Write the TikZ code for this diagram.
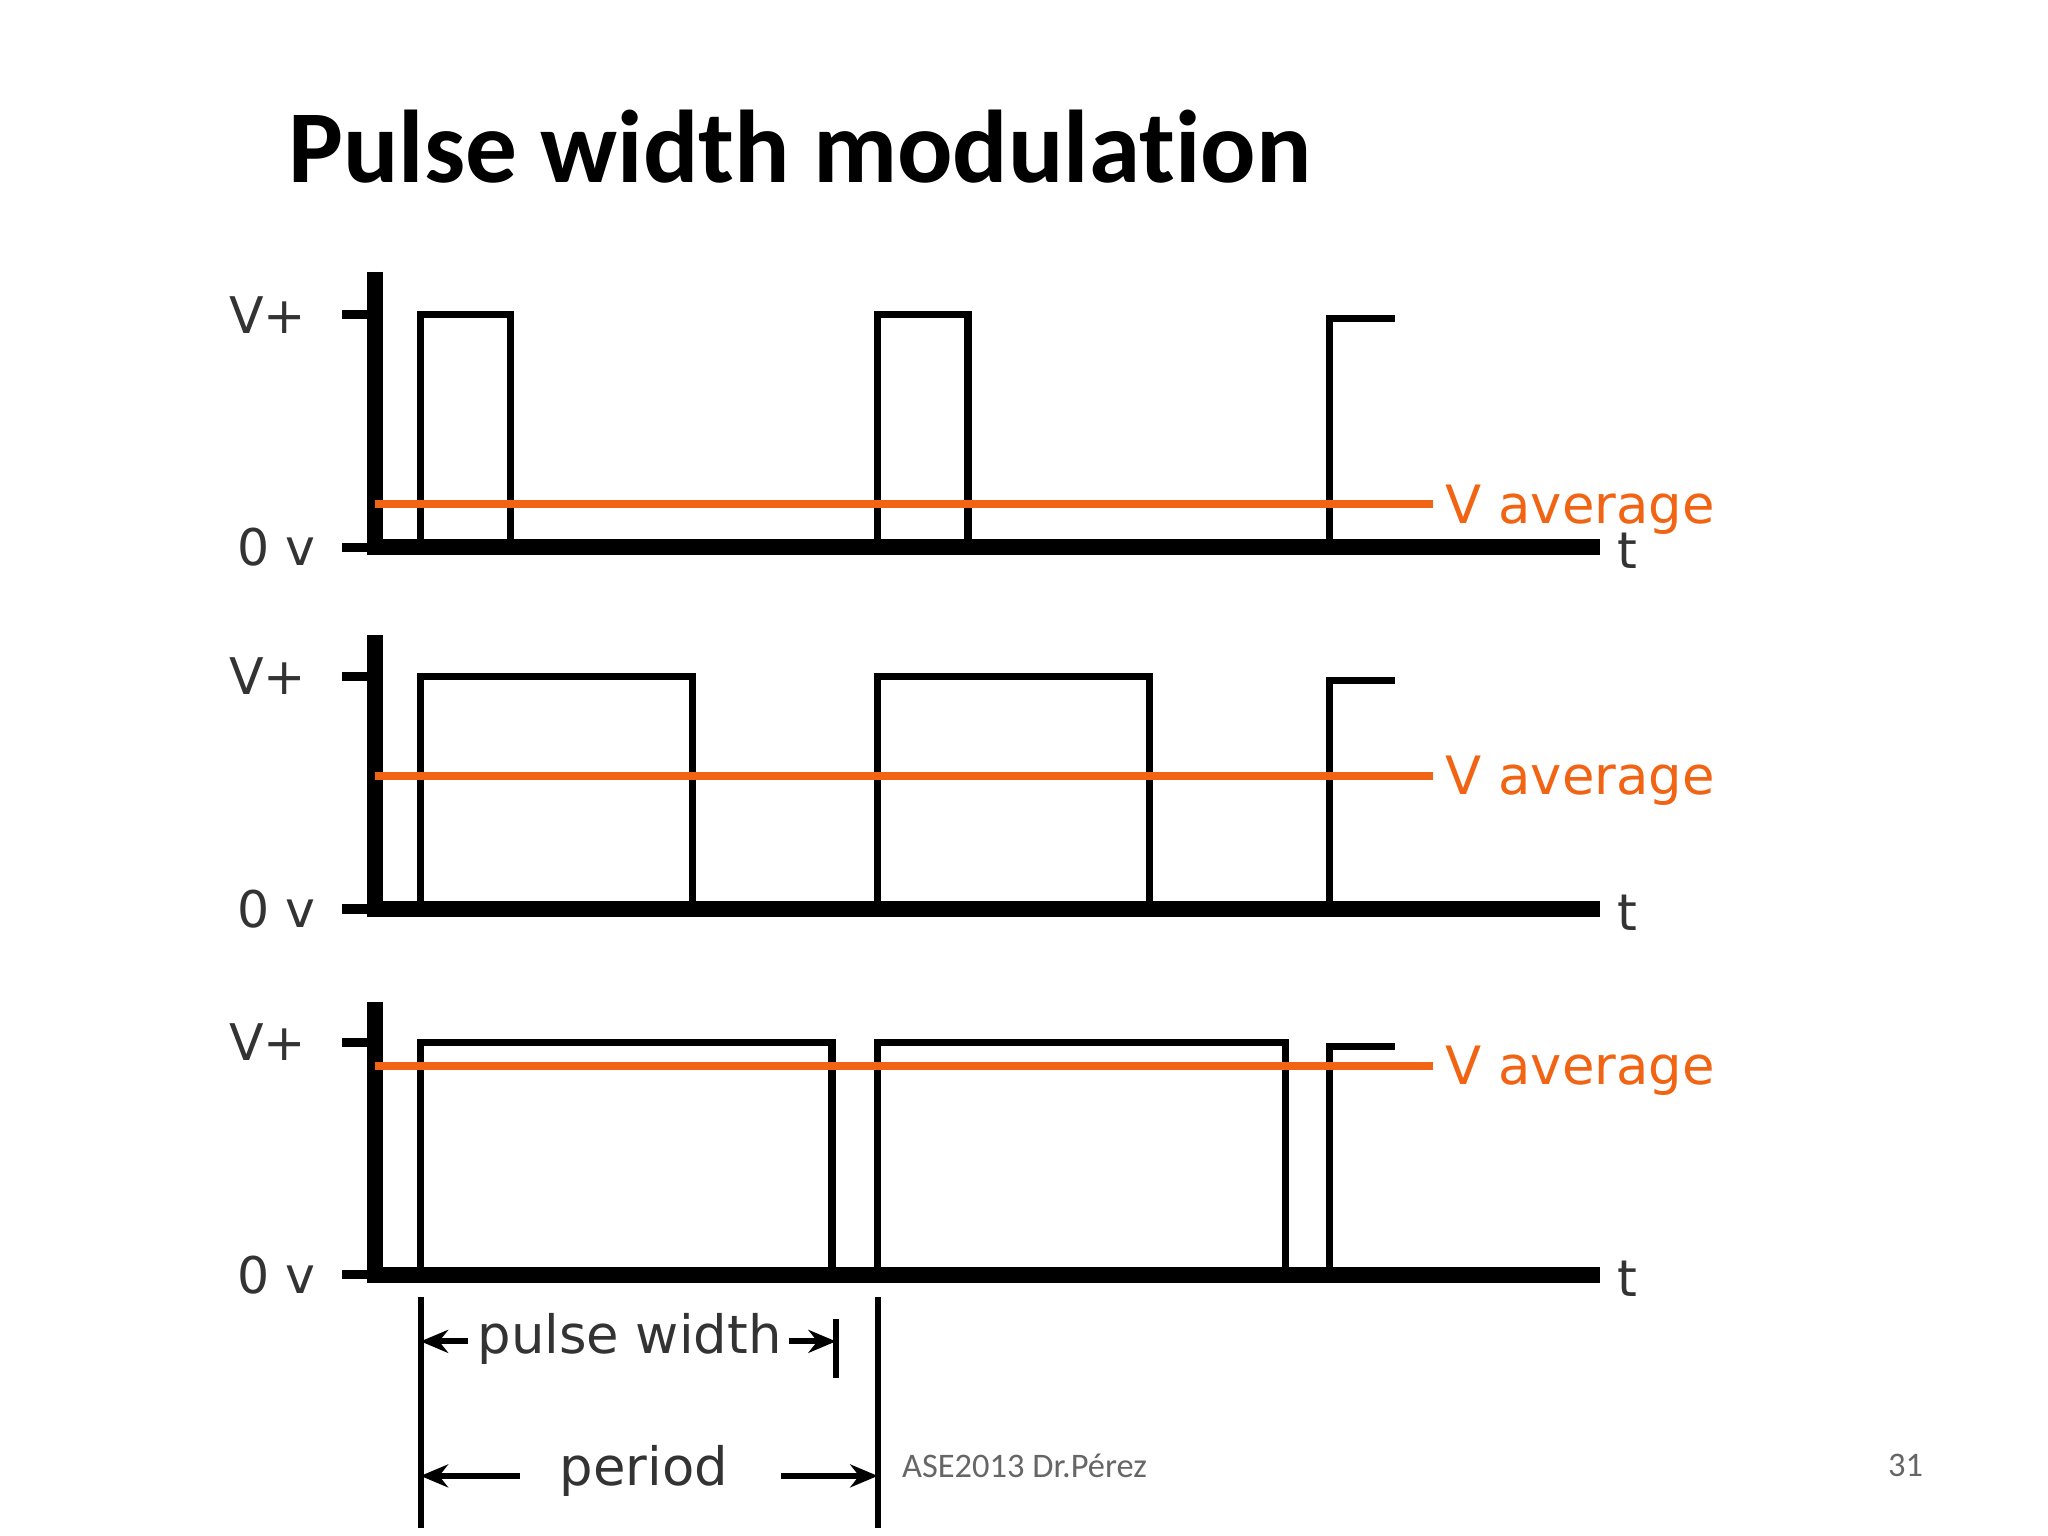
\documentclass[tikz,border=0pt]{standalone}
\usepackage{fontspec}
\setmainfont[Ligatures=NoCommon]{Carlito}
\newfontfamily\plotfont{DejaVu Sans}
\usetikzlibrary{arrows.meta,positioning}
\definecolor{avgorange}{RGB}{240,100,20}
\tikzset{
    axisline/.style={line width=3.5pt},
    tickline/.style={line width=2pt},
    pulseline/.style={line width=1.6pt},
    avgline/.style={avgorange, line width=1.8pt},
    plotlabel/.style={font=\plotfont\fontsize{11}{11}\selectfont, text=black!80, inner sep=0pt},
    biglabel/.style={plotlabel, font=\plotfont\fontsize{11.5}{11.5}\selectfont},
    avglabel/.style={biglabel, text=avgorange, anchor=west},
    dimline/.style={line width=1.3pt},
    dimarrow/.style={line width=1.3pt, -{Stealth[length=6pt,width=5pt]}}
}
\begin{document}
\begin{tikzpicture}[x=0.01cm, y=-0.01cm]
    \useasboundingbox (0,0) rectangle (1568,1176);
    % Title
    \node (title) [anchor=base west, inner sep=0pt, font=\bfseries\fontsize{22.5}{22.5}\selectfont] at (220,140) {Pulse width modulation};

    % Panels: top of axis / V+ level / 0 v level / average level / end of pulses
    \foreach \top/\vp/\zero/\avg/\wA/\wB/\name in
        {208/241/419/386/391/741/one, 486/518/696/594/530/880/two, 767/798/976/816/637/984/three}{
        \draw [axisline] (287,\top) -- (287,\zero) -- (1225,\zero);
        \draw [tickline] (262,\vp) -- (287,\vp);
        \draw [tickline] (262,\zero) -- (287,\zero);
        \node (vplus\name) [plotlabel, anchor=east] at (235,\vp) {V+};
        \node (zero\name) [plotlabel, anchor=east] at (242,\zero) {0 v};
        \node (t\name) [plotlabel, anchor=west] at (1238,\zero+3) {t};
        \draw [pulseline] (322,\zero) -- (322,\vp) -- (\wA,\vp) -- (\wA,\zero);
        \draw [pulseline] (672,\zero) -- (672,\vp) -- (\wB,\vp) -- (\wB,\zero);
        \draw [pulseline] (1018,\zero) -- (1018,\vp+3) -- (1068,\vp+3);
        \coordinate (avgstart\name) at (287,\avg);
        \coordinate (avgend\name) at (1097,\avg);
        \draw [avgline] (avgstart\name) -- (avgend\name);
        \node (avg\name) [avglabel] at (1106,\avg+4) {V average};
    }

    % Pulse width and period marks
    \coordinate (mA1) at (322,993);  \coordinate (mA2) at (322,1170);
    \coordinate (mB1) at (672,993);  \coordinate (mB2) at (672,1170);
    \coordinate (mC1) at (640,1010); \coordinate (mC2) at (640,1055);
    \draw [dimline] (mA1) -- (mA2);
    \draw [dimline] (mB1) -- (mB2);
    \draw [dimline] (mC1) -- (mC2);
    \node (pw) [biglabel] at (482,1025) {pulse width};
    \node (per) [biglabel] at (493,1126) {period};
    \coordinate (pwL) at (322,1027); \coordinate (pwR) at (640,1027);
    \coordinate (perL) at (322,1130); \coordinate (perR) at (672,1130);
    \draw [dimarrow] (358,1027) -- (pwL);
    \draw [dimarrow] (604,1027) -- (pwR);
    \draw [dimarrow] (398,1130) -- (perL);
    \draw [dimarrow] (598,1130) -- (perR);

    % Footer
    \node (footer) [anchor=west, inner sep=0pt, text=black!60, font=\fontsize{7.5}{7.5}\selectfont] at (690,1122) {ASE2013 Dr.Pérez};
    \node (page) [anchor=east, inner sep=0pt, text=black!60, font=\fontsize{7.5}{7.5}\selectfont] at (1473,1122) {31};
\end{tikzpicture}
\end{document}
